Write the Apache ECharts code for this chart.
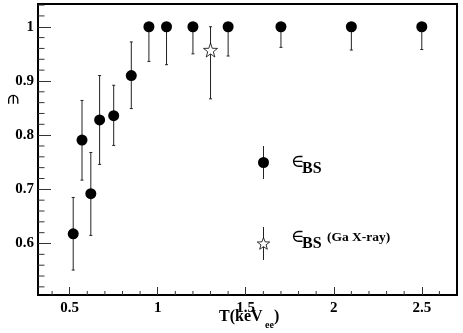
<!DOCTYPE html>
<html><head><meta charset="utf-8">
<script src="https://cdn.jsdelivr.net/npm/echarts@6/dist/echarts.min.js"></script>
<style>html,body{margin:0;padding:0;background:#fff}#c{width:463px;height:333px}</style>
</head><body><div id="c"></div>
<script>
// data
var T = [0.52, 0.57, 0.62, 0.67, 0.75, 0.85, 0.95, 1.05, 1.2, 1.4, 1.7, 2.1, 2.5];
var effBS = [0.618, 0.791, 0.692, 0.828, 0.836, 0.910, 1, 1, 1, 1, 1, 1, 1];
var effLow = [0.551, 0.717, 0.615, 0.746, 0.781, 0.849, 0.936, 0.930, 0.950, 0.946, 0.962, 0.957, 0.958];
var effHigh = [0.685, 0.864, 0.768, 0.910, 0.892, 0.972, 1, 1, 1, 1, 1, 1, 1];
var gaT = [1.3];
var gaEff = [0.957];
var gaLow = [0.867];
var gaHigh = [1.0];
var xMajor = [0.5, 1, 1.5, 2, 2.5];
var xMinor = [0.4, 0.6, 0.7, 0.8, 0.9, 1.1, 1.2, 1.3, 1.4, 1.6, 1.7, 1.8, 1.9, 2.1, 2.2, 2.3, 2.4, 2.6];
var yMajor = [0.6, 0.7, 0.8, 0.9, 1];
var yMinor = [0.52, 0.54, 0.56, 0.58, 0.62, 0.64, 0.66, 0.68, 0.72, 0.74, 0.76, 0.78, 0.82, 0.84, 0.86, 0.88, 0.92, 0.94, 0.96, 0.98, 1.02, 1.04];

var FONT = '"Liberation Serif", "DejaVu Serif", serif';
var STAR = 'path://M0,-10 L2.35,-3.24 L9.51,-3.09 L3.8,1.24 L5.88,8.09 L0,4 L-5.88,8.09 L-3.8,1.24 L-9.51,-3.09 L-2.35,-3.24 Z';

var xMin = 0.32, xMax = 2.7, yMin = 0.505, yMax = 1.042;

function starPoints(cx, cy, R, r) {
  var pts = [];
  for (var k = 0; k < 10; k++) {
    var ang = -Math.PI / 2 + k * Math.PI / 5;
    var rad = (k % 2 === 0) ? R : r;
    pts.push([cx + rad * Math.cos(ang), cy + rad * Math.sin(ang)]);
  }
  return pts;
}

function errData(xs, lo, hi) {
  return xs.map(function (x, i) { return [x, lo[i], hi[i]]; });
}
function errRender(params, api) {
  var x = api.value(0);
  var p1 = api.coord([x, api.value(1)]);
  var p2 = api.coord([x, api.value(2)]);
  var st = {stroke: '#222', lineWidth: 1};
  return {type: 'group', children: [
    {type: 'line', shape: {x1: p1[0], y1: p1[1], x2: p2[0], y2: p2[1]}, style: st},
    {type: 'line', shape: {x1: p1[0] - 1.5, y1: p1[1], x2: p1[0] + 1.5, y2: p1[1]}, style: st},
    {type: 'line', shape: {x1: p2[0] - 1.5, y1: p2[1], x2: p2[0] + 1.5, y2: p2[1]}, style: st}
  ]};
}
// minor ticks drawn through the axis scales
function xMinorRender(params, api) {
  var p = api.coord([api.value(0), yMin]);
  return {type: 'line', shape: {x1: p[0], y1: p[1], x2: p[0], y2: p[1] - 4}, style: {stroke: '#333', lineWidth: 1}};
}
function yMinorRender(params, api) {
  var p = api.coord([xMin, api.value(1)]);
  return {type: 'line', shape: {x1: p[0], y1: p[1], x2: p[0] + 6.5, y2: p[1]}, style: {stroke: '#333', lineWidth: 1}};
}

var chart = echarts.init(document.getElementById('c'), null, {renderer: 'canvas'});
var option = {
  animation: false,
  backgroundColor: '#fff',
  grid: {left: 38, right: 6, top: 4, bottom: 38, show: true, borderColor: '#000', borderWidth: 2, backgroundColor: 'transparent'},
  xAxis: {
    type: 'value', min: xMin, max: xMax, position: 'bottom',
    axisLine: {show: true, lineStyle: {color: '#000', width: 2}},
    axisTick: {show: true, inside: true, length: 8, customValues: xMajor, lineStyle: {color: '#333'}},
    axisLabel: {customValues: xMajor, color: '#000', fontFamily: FONT, fontWeight: 'bold', fontSize: 15, margin: 6,
      formatter: function (v) { return String(v); }},
    splitLine: {show: false}
  },
  yAxis: {
    type: 'value', min: yMin, max: yMax, position: 'left',
    axisLine: {show: true, lineStyle: {color: '#000', width: 2}},
    axisTick: {show: true, inside: true, length: 13, customValues: yMajor, lineStyle: {color: '#333'}},
    axisLabel: {customValues: yMajor, color: '#000', fontFamily: FONT, fontWeight: 'bold', fontSize: 15, margin: 4,
      formatter: function (v) { return String(v); }},
    splitLine: {show: false}
  },
  series: [{
    type: 'custom', name: 'xMinorTicks', renderItem: xMinorRender, clip: false, silent: true,
    data: xMinor.map(function (v) { return [v, yMin]; }), z: 1
  }, {
    type: 'custom', name: 'yMinorTicks', renderItem: yMinorRender, clip: false, silent: true,
    data: yMinor.map(function (v) { return [xMin, v]; }), z: 1
  }, {
    type: 'custom', name: 'errBS', renderItem: errRender,
    data: errData(T, effLow, effHigh), encode: {x: 0, y: [1, 2]}, z: 2
  }, {
    type: 'custom', name: 'errGa', renderItem: errRender,
    data: errData(gaT, gaLow, gaHigh), encode: {x: 0, y: [1, 2]}, z: 2
  }, {
    type: 'scatter', name: 'BS', symbol: 'circle', symbolSize: 11,
    data: T.map(function (x, i) { return [x, effBS[i]]; }),
    itemStyle: {color: '#000', opacity: 1}, z: 3
  }, {
    type: 'scatter', name: 'Ga', symbol: STAR, symbolSize: 14,
    data: gaT.map(function (x, i) { return [x, gaEff[i]]; }),
    itemStyle: {color: '#fff', borderColor: '#000', borderWidth: 0.8, opacity: 1}, z: 3
  }],
  graphic: [
    // x axis title
    {type: 'text', left: 219, top: 309, style: {text: 'T(keV', font: 'bold 16px ' + FONT, fill: '#000'}},
    {type: 'text', left: 265, top: 320, style: {text: 'ee', font: 'bold 10px ' + FONT, fill: '#000'}},
    {type: 'text', left: 274, top: 309, style: {text: ')', font: 'bold 16px ' + FONT, fill: '#000'}},
    // y axis title
    {type: 'text', x: 12, y: 99, rotation: -Math.PI / 2,
      style: {text: '\u2208', font: '17px ' + FONT, fill: '#000', textAlign: 'center', textVerticalAlign: 'middle'}},
    // legend
    {type: 'line', shape: {x1: 263.5, y1: 146, x2: 263.5, y2: 179}, style: {stroke: '#222', lineWidth: 1}},
    {type: 'circle', shape: {cx: 263.5, cy: 162.5, r: 5.5}, style: {fill: '#000'}},
    {type: 'text', left: 291, top: 153, style: {text: '\u2208', font: '18px ' + FONT, fill: '#000'}},
    {type: 'text', left: 302, top: 161, style: {text: 'BS', font: 'bold 16px ' + FONT, fill: '#000'}},
    {type: 'line', shape: {x1: 263.5, y1: 227, x2: 263.5, y2: 260}, style: {stroke: '#222', lineWidth: 1}},
    {type: 'polygon', shape: {points: starPoints(263.5, 244, 6.5, 2.7)}, style: {fill: '#fff', stroke: '#000', lineWidth: 0.8}, z: 10},
    {type: 'text', left: 291, top: 228, style: {text: '\u2208', font: '18px ' + FONT, fill: '#000'}},
    {type: 'text', left: 302, top: 236, style: {text: 'BS', font: 'bold 16px ' + FONT, fill: '#000'}},
    {type: 'text', left: 327, top: 231, style: {text: '(Ga X-ray)', font: 'bold 13.5px ' + FONT, fill: '#000'}}
  ]
};
chart.setOption(option);
</script>
</body></html>
